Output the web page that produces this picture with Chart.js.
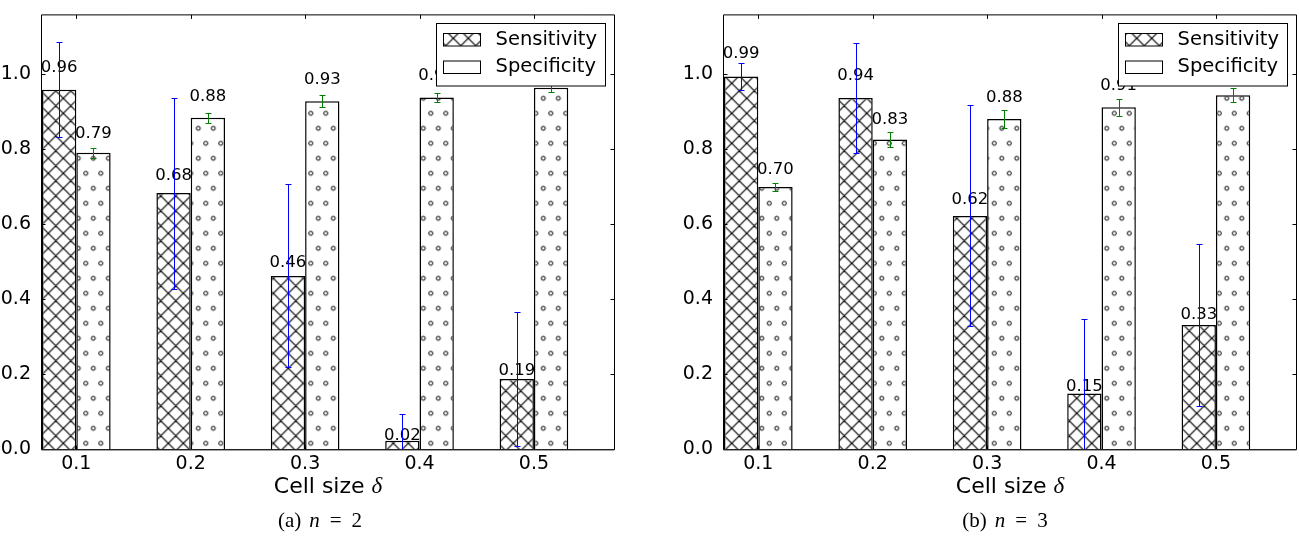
<!DOCTYPE html>
<html>
<head>
<meta charset="utf-8">
<script src="https://cdn.jsdelivr.net/npm/chart.js@4.4.1/dist/chart.umd.min.js"></script>
<style>
  body { margin: 0; width: 1299px; height: 536px; position: relative; background: #fff; overflow: hidden; }
  canvas { position: absolute; top: 0; }
  .caption { position: absolute; top: 510px; width: 200px; text-align: center; font-family: "Liberation Serif", serif; font-size: 21px; line-height: 21px; color: #000; white-space: nowrap; }
  .caption i { margin-left: 8px; }
  .caption .eq { margin: 0 10px; }
</style>
</head>
<body>
<canvas id="chartA" width="650" height="536" style="left:0"></canvas>
<canvas id="chartB" width="649" height="536" style="left:650px"></canvas>
<div class="caption" style="left:220px">(a)<i>n</i><span class="eq">=</span>2</div>
<div class="caption" style="left:905px">(b)<i>n</i><span class="eq">=</span>3</div>
<script>
// data
const cellSizes = [0.1, 0.2, 0.3, 0.4, 0.5];
const xTickLabels = ['0.1', '0.2', '0.3', '0.4', '0.5'];
const yTickValues = [0.0, 0.2, 0.4, 0.6, 0.8, 1.0];
const yTickLabels = ['0.0', '0.2', '0.4', '0.6', '0.8', '1.0'];
const seriesNames = ['Sensitivity', 'Specificity'];

// (a) n = 2
const sensN2 = [0.959, 0.683, 0.462, 0.022, 0.187];
const sensErrN2 = [0.126, 0.255, 0.244, 0.072, 0.178];
const specN2 = [0.791, 0.884, 0.928, 0.938, 0.964];
const specErrN2 = [0.013, 0.013, 0.016, 0.013, 0.012];

// (b) n = 3
const sensN3 = [0.994, 0.937, 0.622, 0.148, 0.331];
const sensErrN3 = [0.037, 0.146, 0.295, 0.198, 0.217];
const specN3 = [0.699, 0.826, 0.881, 0.912, 0.944];
const specErrN3 = [0.010, 0.021, 0.024, 0.023, 0.019];

Chart.defaults.font.family = '"DejaVu Sans", sans-serif';
Chart.defaults.color = '#000';

function makeCrossPattern(ctx, dx, dy) {
    const c = document.createElement('canvas');
    c.width = 15; c.height = 15;
    const g = c.getContext('2d');
    g.fillStyle = '#fff';
    g.fillRect(0, 0, 15, 15);
    g.strokeStyle = '#000';
    g.lineWidth = 1.2;
    g.beginPath();
    for (let ox = -15; ox <= 15; ox += 15) {
        for (let oy = -15; oy <= 15; oy += 15) {
            g.moveTo(ox, oy); g.lineTo(ox + 15, oy + 15);
            g.moveTo(ox, oy + 15); g.lineTo(ox + 15, oy);
        }
    }
    g.stroke();
    const p = ctx.createPattern(c, 'repeat');
    p.setTransform(new DOMMatrix().translate(dx, dy));
    return p;
}

function makeDotPattern(ctx, dx, dy) {
    const c = document.createElement('canvas');
    c.width = 15; c.height = 30;
    const g = c.getContext('2d');
    g.fillStyle = '#fff';
    g.fillRect(0, 0, 15, 30);
    g.strokeStyle = '#000';
    g.lineWidth = 1;
    [[0, 0], [15, 0], [0, 30], [15, 30], [7.5, 15]].forEach(([x, y]) => {
        g.beginPath();
        g.arc(x, y, 2, 0, Math.PI * 2);
        g.stroke();
    });
    const p = ctx.createPattern(c, 'repeat');
    p.setTransform(new DOMMatrix().translate(dx, dy));
    return p;
}

const decorPlugin = {
    id: 'decor',
    afterDatasetsDraw(chart, args, opts) {
        const ctx = chart.ctx;
        const area = chart.chartArea;
        const xs = chart.scales.x;
        const ys = chart.scales.y;

        ctx.save();

        // value labels
        ctx.fillStyle = '#000';
        ctx.font = '16.5px "DejaVu Sans"';
        ctx.textAlign = 'center';
        ctx.textBaseline = 'alphabetic';
        chart.data.datasets.forEach((ds, i) => {
            const meta = chart.getDatasetMeta(i);
            meta.data.forEach((bar, j) => {
                const v = ds.data[j].y;
                ctx.fillText(v.toFixed(2), bar.x, ys.getPixelForValue(v * 1.05));
            });
        });

        // error bars
        ctx.save();
        ctx.beginPath();
        ctx.rect(area.left, area.top, area.right - area.left, area.bottom - area.top);
        ctx.clip();
        ctx.lineWidth = 1;
        chart.data.datasets.forEach((ds, i) => {
            const meta = chart.getDatasetMeta(i);
            const errs = opts.errors[i];
            ctx.strokeStyle = opts.errColors[i];
            meta.data.forEach((bar, j) => {
                const v = ds.data[j].y;
                const x = Math.round(bar.x) + 0.5;
                const yt = Math.round(ys.getPixelForValue(v + errs[j])) + 0.5;
                const yb = Math.round(ys.getPixelForValue(v - errs[j])) + 0.5;
                ctx.beginPath();
                ctx.moveTo(x, yt); ctx.lineTo(x, yb);
                ctx.moveTo(x - 3, yt); ctx.lineTo(x + 3, yt);
                ctx.moveTo(x - 3, yb); ctx.lineTo(x + 3, yb);
                ctx.stroke();
            });
        });
        ctx.restore();

        // frame and inward ticks
        ctx.strokeStyle = '#000';
        ctx.lineWidth = 1;
        const L = area.left - 0.5, R = area.right + 0.5, T = area.top + 0.5, B = area.bottom + 0.5;
        ctx.beginPath();
        ctx.rect(L, T, R - L, B - T);
        cellSizes.forEach(v => {
            const x = Math.round(xs.getPixelForValue(v)) + 0.5;
            ctx.moveTo(x, T); ctx.lineTo(x, T + 4);
            ctx.moveTo(x, B); ctx.lineTo(x, B - 4);
        });
        yTickValues.forEach(v => {
            const y = Math.round(ys.getPixelForValue(v)) + 0.5;
            ctx.moveTo(L, y); ctx.lineTo(L + 4, y);
            ctx.moveTo(R, y); ctx.lineTo(R - 4, y);
        });
        ctx.stroke();
        // bottom spine a little heavier, as in the figure
        ctx.beginPath();
        ctx.moveTo(L, B + 0.5); ctx.lineTo(R, B + 0.5);
        ctx.strokeStyle = '#444';
        ctx.stroke();
        ctx.strokeStyle = '#000';

        // legend box in the upper right corner
        const lw = 169, lh = 62.5;
        const lx = Math.round(area.right - 9 - lw) + 0.5;
        const ly = Math.round(area.top + 9) + 0.5;
        ctx.fillStyle = '#fff';
        ctx.fillRect(lx, ly, lw, lh);
        ctx.strokeRect(lx, ly, lw, lh);
        ctx.font = '19.5px "DejaVu Sans"';
        ctx.textAlign = 'left';
        ctx.textBaseline = 'middle';
        chart.data.datasets.forEach((ds, i) => {
            const py = ly + 10 + i * 27.5;
            ctx.fillStyle = i === 0 ? ds.backgroundColor : '#fff';
            ctx.fillRect(lx + 7, py, 37, 12.5);
            ctx.strokeRect(lx + 7, py, 37, 12.5);
            ctx.fillStyle = '#000';
            ctx.fillText(ds.label, lx + 59, py + 6);
        });

        // x axis title with italic delta
        const cx = (area.left + area.right) / 2;
        const base = area.bottom + 44;
        ctx.font = '22px "DejaVu Sans"';
        const t1 = 'Cell size ';
        const w1 = ctx.measureText(t1).width;
        ctx.font = 'italic 23px "Liberation Serif"';
        const w2 = ctx.measureText('δ').width;
        const sx = cx - (w1 + w2) / 2;
        ctx.textBaseline = 'alphabetic';
        ctx.font = '22px "DejaVu Sans"';
        ctx.fillText(t1, sx, base);
        ctx.font = 'italic 23px "Liberation Serif"';
        ctx.fillText('δ', sx + w1, base);

        ctx.restore();
    }
};

function makeChart(canvasId, sens, sensErr, spec, specErr, yAxisWidth, padRight, hatchDx) {
    const canvas = document.getElementById(canvasId);
    const ctx = canvas.getContext('2d');
    const cross = makeCrossPattern(ctx, hatchDx, 8.3);
    const dots = makeDotPattern(ctx, hatchDx, 8.3);

    return new Chart(ctx, {
        type: 'bar',
        data: {
            datasets: [{
                label: seriesNames[0],
                data: cellSizes.map((x, i) => ({ x: x, y: sens[i] })),
                backgroundColor: cross,
                borderColor: '#000',
                borderWidth: 1.5,
                categoryPercentage: 0.6,
                barPercentage: 1.0
            }, {
                label: seriesNames[1],
                data: cellSizes.map((x, i) => ({ x: x, y: spec[i] })),
                backgroundColor: dots,
                borderColor: '#000',
                borderWidth: 1.5,
                categoryPercentage: 0.6,
                barPercentage: 1.0
            }]
        },
        options: {
            responsive: false,
            animation: false,
            layout: { padding: { left: 0, right: padRight, top: 3, bottom: 0 } },
            plugins: {
                legend: { display: false },
                tooltip: { enabled: false },
                decor: {
                    errors: [sensErr, specErr],
                    errColors: ['#0000ff', '#008000']
                }
            },
            scales: {
                x: {
                    type: 'linear',
                    min: 0.07,
                    max: 0.57,
                    offset: false,
                    grid: { display: false },
                    border: { display: false },
                    afterBuildTicks: s => { s.ticks = cellSizes.map(v => ({ value: v })); },
                    afterFit: s => { s.height = 87; },
                    ticks: {
                        padding: -4,
                        autoSkip: false,
                        maxRotation: 0,
                        font: { size: 19 },
                        color: '#000',
                        callback: (v, i) => xTickLabels[i]
                    }
                },
                y: {
                    min: 0,
                    max: 1.16,
                    grid: { display: false },
                    border: { display: false },
                    afterBuildTicks: s => { s.ticks = yTickValues.map(v => ({ value: v })); },
                    afterFit: s => { s.width = yAxisWidth; },
                    ticks: {
                        padding: 3,
                        font: { size: 19 },
                        color: '#000',
                        callback: (v, i) => yTickLabels[i]
                    }
                }
            }
        },
        plugins: [decorPlugin]
    });
}

makeChart('chartA', sensN2, sensErrN2, specN2, specErrN2, 42, 36, 3.3);
makeChart('chartB', sensN3, sensErrN3, specN3, specErrN3, 74, 3, 6.7);
</script>
</body>
</html>
